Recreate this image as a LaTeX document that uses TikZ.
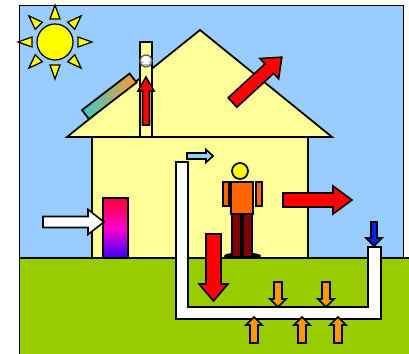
\documentclass[tikz,border=0pt]{standalone}
\usepackage{xcolor}
\usetikzlibrary{calc}
\definecolor{SkyBlue}{HTML}{99CCFF}
\definecolor{WallYellow}{HTML}{FFFF99}
\definecolor{GrassGreen}{HTML}{99CC00}
\definecolor{SunYellow}{HTML}{FFFF00}
\definecolor{HeatRed}{HTML}{FF0000}
\definecolor{EarthOrange}{HTML}{FF9900}
\definecolor{ShirtOrange}{HTML}{FF6600}
\definecolor{TrouserRed}{HTML}{800000}
\definecolor{PanelTeal}{HTML}{33CCCC}
\definecolor{PanelOrange}{HTML}{FF9933}
\definecolor{RadTop}{HTML}{FF0033}
\definecolor{RadBottom}{HTML}{3300FF}
\definecolor{ColdBlue}{HTML}{0022EE}

% block arrow: style, start, angle, length, shaft half width, head half width, head length
\newcommand{\flowarrow}[7]{%
  \draw[blockarrow, #1, shift={#2}, rotate=#3]
    (0,-#5) -- ({#4-#7},-#5) -- ({#4-#7},-#6) -- (#4,0)
    -- ({#4-#7},#6) -- ({#4-#7},#5) -- (0,#5) -- cycle;}

\begin{document}
\begin{tikzpicture}[
  x=0.02cm, y=-0.02cm,
  outline/.style={draw=black, line width=1pt},
  blockarrow/.style={draw=black, line width=0.9pt},
  sunray/.style={fill=SunYellow, draw=black, line width=0.7pt}
]
  \useasboundingbox (0,0) rectangle (409,354);

  % sky
  \fill[SkyBlue] (19.5,5.5) rectangle (403.5,354);
  \draw[outline] (19.5,354) -- (19.5,5.5) -- (403.5,5.5) -- (403.5,258);

  % sun
  \foreach \a in {0,45,...,315}
    \draw[sunray, shift={(55,42)}, rotate=\a] (23,-5) -- (37,0) -- (23,5) -- cycle;
  \draw[sunray] (55,42) circle (18);

  % roof, panel and chimney
  \draw[outline, fill=WallYellow] (67,137) -- (200,30) -- (332,137) -- cycle;
  \shade[shift={(109.3,96.3)}, rotate=37.5, left color=PanelTeal, right color=PanelOrange]
    (-30,-5.7) rectangle (30,5.7);
  \draw[outline, shift={(109.3,96.3)}, rotate=37.5] (-30,-5.7) rectangle (30,5.7);
  \draw[outline, fill=WallYellow] (140,42) rectangle (152,137);

  % fan in the chimney
  \begin{scope}
    \clip (146,61) circle (6);
    \fill[white] (140,55) rectangle (152,67);
    \fill[gray!55] (140,61) rectangle (152,67);
  \end{scope}
  \fill[white] (142,64) -- (146,57) -- (150,64) -- cycle;
  \draw[gray!70!black, line width=0.7pt] (146,61) circle (6);

  % house wall
  \draw[outline, fill=WallYellow] (92,137) rectangle (308,258);

  % ground
  \fill[GrassGreen] (19.5,258) rectangle (409,354);
  \draw[outline] (19.5,258) -- (409,258);
  \draw[outline] (19.5,258) -- (19.5,354);

  % radiator
  \shade[top color=RadTop, bottom color=RadBottom, middle color=magenta!80!red]
    (103,198) rectangle (128,258);
  \draw[outline] (103,198) rectangle (128,258);

  % ground pipe loop
  \draw[outline, fill=white] (176,162) -- (188,162) -- (188,307) -- (368,307)
    -- (368,247) -- (381,247) -- (381,319) -- (176,319) -- cycle;

  % person
  \fill[black] (234,256) ellipse (10 and 3);
  \fill[black] (251,256) ellipse (10 and 3);
  \draw[outline, fill=TrouserRed] (232,214) rectangle (241,257);
  \draw[outline, fill=TrouserRed] (243,214) rectangle (252,257);
  \draw[outline, fill=ShirtOrange] (223,182) rectangle (229,206);
  \draw[outline, fill=ShirtOrange] (256,182) rectangle (262,206);
  \draw[outline, fill=ShirtOrange] (231,182) rectangle (253,214);
  \draw[outline, fill=SunYellow] (240,171) circle (8);

  % heat flows
  \flowarrow{fill=white}{(43,222)}{0}{61}{5.5}{12.5}{16}
  \flowarrow{fill=HeatRed}{(146,125)}{90}{48}{3.5}{8}{14}
  \flowarrow{fill=HeatRed}{(232.5,102.5)}{42.6}{67}{6.4}{13.8}{17}
  \flowarrow{fill=HeatRed}{(283,200)}{0}{69}{7}{14}{19}
  \flowarrow{fill=HeatRed}{(213.5,234)}{-90}{67}{7.5}{14.5}{17}
  \flowarrow{fill=SkyBlue}{(187,156)}{0}{26}{3}{6.5}{7}
  \flowarrow{fill=ColdBlue}{(374,222)}{-90}{24}{3}{8}{8}
  \foreach \x in {278,326}{
    \flowarrow{fill=EarthOrange}{(\x,282)}{-90}{25}{4}{8}{8}
  }
  \foreach \x in {254,302,338}{
    \flowarrow{fill=EarthOrange}{(\x,343)}{90}{26}{4}{8}{8}
  }
\end{tikzpicture}
\end{document}
